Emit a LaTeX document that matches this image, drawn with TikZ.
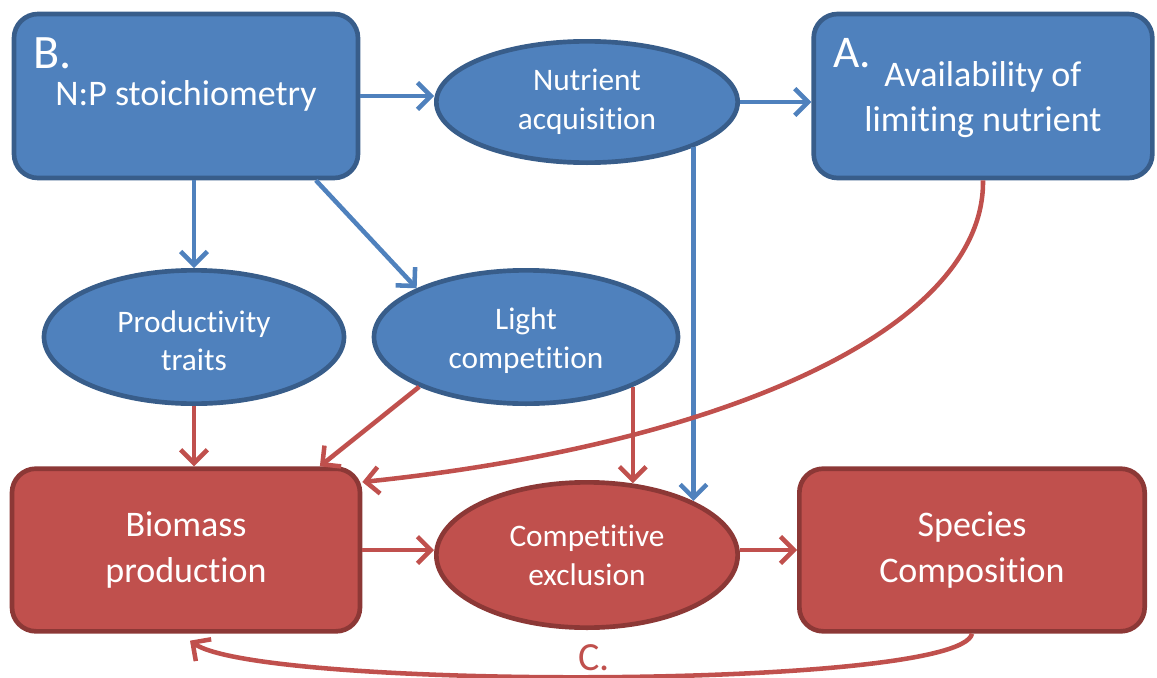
\documentclass[tikz,border=0pt]{standalone}
\usepackage{fontspec}
\setmainfont{Carlito}[Ligatures=NoCommon]
\usetikzlibrary{arrows.meta, calc, shapes.geometric}
\definecolor{nblue}{HTML}{4F81BD}
\definecolor{nblueline}{HTML}{385D8A}
\definecolor{nred}{HTML}{C0504D}
\definecolor{nredline}{HTML}{8C3836}
\newcommand{\boxtxt}{\fontsize{27}{34}\selectfont}
\newcommand{\elltxt}{\fontsize{23.5}{29}\selectfont}
\tikzset{bluebox/.style={rectangle,rounded corners=18pt,fill=nblue,draw=nblueline,line width=3.5pt,text=white,inner sep=0pt,align=center,font=\boxtxt}}
\tikzset{redbox/.style={bluebox,fill=nred,draw=nredline}}
\tikzset{blueell/.style={ellipse,fill=nblue,draw=nblueline,line width=3.5pt,text=white,inner sep=0pt,align=center,font=\elltxt}}
\tikzset{redell/.style={blueell,fill=nred,draw=nredline}}
\tikzset{bluearr/.style={draw=nblue,line width=3.4pt,-{Straight Barb[length=10pt,width=20pt]}}}
\tikzset{redarr/.style={bluearr,draw=nred}}

\begin{document}
\begin{tikzpicture}[x=0.75pt,y=-0.75pt] % pixel grid of the slide, y going down
  \useasboundingbox (0,0) rectangle (1157,678);

  % top row
  \node[bluebox,minimum width=258pt,minimum height=123pt] (bsto) at (186,96) {N:P stoichiometry};
  \node[blueell,minimum width=226pt,minimum height=91pt] (nutr) at (587,102) {Nutrient\\acquisition};
  \node[bluebox,minimum width=254pt,minimum height=123pt] (avail) at (983,96) {\rule{0pt}{24pt}Availability of\\limiting nutrient};

  % middle row
  \node[blueell,minimum width=225pt,minimum height=100pt] (prod) at (194,337) {\rule{0pt}{22pt}Productivity\\traits};
  \node[blueell,minimum width=228pt,minimum height=100pt] (light) at (526,337) {\rule{0pt}{22pt}Light\\competition};

  % bottom row
  \node[redbox,minimum width=261pt,minimum height=122pt] (bio) at (186,550) {Biomass\\production};
  \node[redell,minimum width=226pt,minimum height=109pt] (comp) at (587,555) {Competitive\\exclusion};
  \node[redbox,minimum width=259pt,minimum height=122pt] (spec) at (972,550) {Species\\Composition};

  % letters
  \node[anchor=base west,text=white,font=\fontsize{36}{40}\selectfont,inner sep=0pt] (labB) at (33,68) {B.};
  \node[anchor=base west,text=white,font=\fontsize{34}{40}\selectfont,inner sep=0pt] (labA) at (833,67) {A.};
  \node[anchor=base,text=nred,font=\fontsize{30}{36}\selectfont,inner sep=0pt] (labC) at (594,670) {C.};

  % blue links
  \draw[bluearr] (bsto.east) -- (bsto.east -| nutr.west);
  \draw[bluearr] (nutr.east) -- (nutr.east -| avail.west);
  \draw[bluearr] (prod.north |- bsto.south) -- (prod.north);
  \draw[bluearr] (bsto.-33) -- (light.156);
  \draw[bluearr] (nutr.-23) -- (nutr.-23 |- comp.27);

  % red links
  \draw[redarr] (prod.south) -- (prod.south |- bio.north);
  \draw[redarr] (light.-155) -- (bio.32.5);
  \draw[redarr] (light.-25) -- (light.-25 |- comp.58);
  \draw[redarr] (bio.east) -- (bio.east -| comp.west);
  \draw[redarr] (comp.east |- bio.east) -- (bio.east -| spec.west);
  \draw[redarr] (avail.south) .. controls (985,330) and (720,445) .. ($(bio.east)+(0,-68)$);
  \draw[redarr] (spec.south) .. controls (960,690) and (260,690) .. ($(bio.south)+(4,7)$);
\end{tikzpicture}
\end{document}
